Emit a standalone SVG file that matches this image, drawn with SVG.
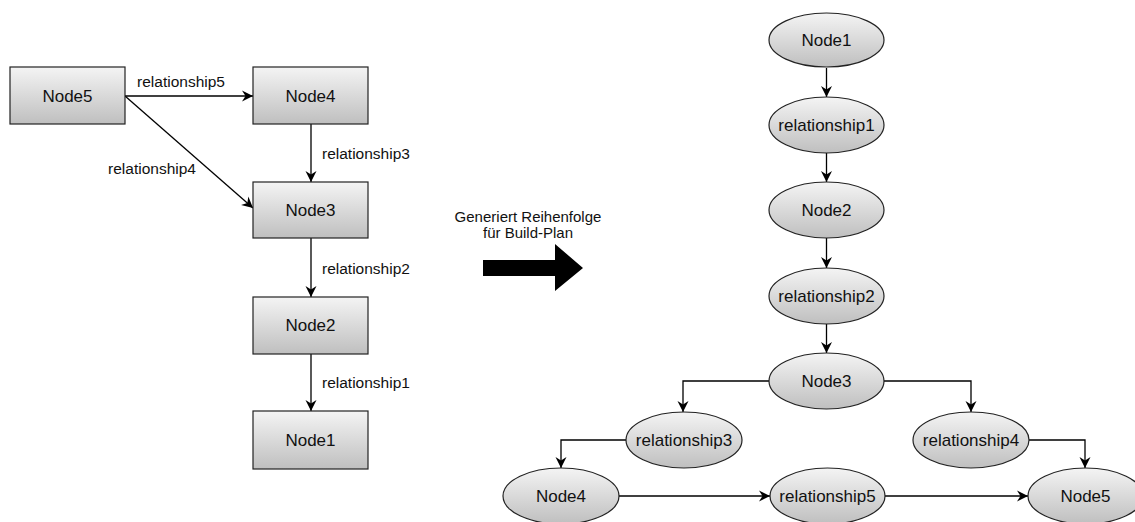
<svg xmlns="http://www.w3.org/2000/svg" width="1135" height="522" viewBox="0 0 1135 522">
  <defs>
    <linearGradient id="shade" x1="0" y1="0" x2="0" y2="1">
      <stop offset="0" stop-color="#f4f4f4"/>
      <stop offset="1" stop-color="#bfbfbf"/>
    </linearGradient>
    <marker id="arrow" viewBox="-12 -7 14 14" refX="0" refY="0" markerWidth="14" markerHeight="14" markerUnits="userSpaceOnUse" orient="auto">
      <path d="M0,0 L-11,-5.5 L-7.5,0 L-11,5.5 Z" fill="#000"/>
    </marker>
    <style>
      .box { fill: url(#shade); stroke: #222; stroke-width: 1.2; }
      .node-text { font-family: "Liberation Sans", Arial, sans-serif; font-size: 17px; fill: #111; text-anchor: middle; dominant-baseline: central; }
      .edge-label { font-family: "Liberation Sans", Arial, sans-serif; font-size: 15.5px; fill: #111; }
      .edge { fill: none; stroke: #000; stroke-width: 1.3; marker-end: url(#arrow); }
      .caption { font-family: "Liberation Sans", Arial, sans-serif; font-size: 15px; fill: #111; text-anchor: middle; }
    </style>
  </defs>

  <rect width="1135" height="522" fill="#fff"/>

  <!-- Source graph: connectors -->
  <g id="source-edges">
    <path class="edge" d="M125,96 L253,96"/>
    <path class="edge" d="M125,96 L253,208"/>
    <path class="edge" d="M311,124 L311,182"/>
    <path class="edge" d="M311,238 L311,297"/>
    <path class="edge" d="M311,354 L311,411"/>
    <text class="edge-label" x="181" y="87" text-anchor="middle">relationship5</text>
    <text class="edge-label" x="152" y="174" text-anchor="middle">relationship4</text>
    <text class="edge-label" x="322" y="159">relationship3</text>
    <text class="edge-label" x="322" y="274">relationship2</text>
    <text class="edge-label" x="322" y="388">relationship1</text>
  </g>

  <!-- Source graph: nodes -->
  <g id="src-node5">
    <rect class="box" x="10" y="67" width="115" height="57"/>
    <text class="node-text" x="67.5" y="96">Node5</text>
  </g>
  <g id="src-node4">
    <rect class="box" x="253" y="67" width="115" height="57"/>
    <text class="node-text" x="310.5" y="96">Node4</text>
  </g>
  <g id="src-node3">
    <rect class="box" x="253" y="182" width="115" height="56"/>
    <text class="node-text" x="310.5" y="210">Node3</text>
  </g>
  <g id="src-node2">
    <rect class="box" x="253" y="297" width="115" height="57"/>
    <text class="node-text" x="310.5" y="325.5">Node2</text>
  </g>
  <g id="src-node1">
    <rect class="box" x="253" y="411" width="115" height="58"/>
    <text class="node-text" x="310.5" y="440">Node1</text>
  </g>

  <!-- Transformation arrow -->
  <g id="transform">
    <text class="caption" x="528" y="222">Generiert Reihenfolge</text>
    <text class="caption" x="528" y="238">für Build-Plan</text>
    <polygon points="483,260 555,260 555,244 583,268 555,291 555,276 483,276" fill="#000"/>
  </g>

  <!-- Build plan: connectors -->
  <g id="plan-edges">
    <path class="edge" d="M826.5,68 L826.5,97"/>
    <path class="edge" d="M826.5,153 L826.5,182"/>
    <path class="edge" d="M826.5,238 L826.5,268"/>
    <path class="edge" d="M826.5,324 L826.5,353"/>
    <path class="edge" d="M769,381 L683,381 L683,412"/>
    <path class="edge" d="M884,381 L971,381 L971,412"/>
    <path class="edge" d="M626,440 L561,440 L561,468"/>
    <path class="edge" d="M1029,440 L1085,440 L1085,468"/>
    <path class="edge" d="M619,496 L770,496"/>
    <path class="edge" d="M885,496 L1028,496"/>
  </g>

  <!-- Build plan: nodes -->
  <g id="plan-node1">
    <ellipse class="box" cx="826.5" cy="40" rx="57.5" ry="27"/>
    <text class="node-text" x="826.5" y="40">Node1</text>
  </g>
  <g id="plan-rel1">
    <ellipse class="box" cx="826.5" cy="125" rx="57.5" ry="28"/>
    <text class="node-text" x="826.5" y="125">relationship1</text>
  </g>
  <g id="plan-node2">
    <ellipse class="box" cx="826.5" cy="210" rx="57.5" ry="28"/>
    <text class="node-text" x="826.5" y="210">Node2</text>
  </g>
  <g id="plan-rel2">
    <ellipse class="box" cx="826.5" cy="296" rx="57.5" ry="28"/>
    <text class="node-text" x="826.5" y="296">relationship2</text>
  </g>
  <g id="plan-node3">
    <ellipse class="box" cx="826.5" cy="381" rx="57.5" ry="28"/>
    <text class="node-text" x="826.5" y="381">Node3</text>
  </g>
  <g id="plan-rel3">
    <ellipse class="box" cx="684" cy="440" rx="58" ry="28"/>
    <text class="node-text" x="684" y="440">relationship3</text>
  </g>
  <g id="plan-rel4">
    <ellipse class="box" cx="971" cy="440" rx="58" ry="28"/>
    <text class="node-text" x="971" y="440">relationship4</text>
  </g>
  <g id="plan-node4">
    <ellipse class="box" cx="561" cy="496" rx="58" ry="28"/>
    <text class="node-text" x="561" y="496">Node4</text>
  </g>
  <g id="plan-rel5">
    <ellipse class="box" cx="827.5" cy="496" rx="57.5" ry="28"/>
    <text class="node-text" x="827.5" y="496">relationship5</text>
  </g>
  <g id="plan-node5">
    <ellipse class="box" cx="1085.5" cy="496" rx="57.5" ry="28"/>
    <text class="node-text" x="1085.5" y="496">Node5</text>
  </g>
</svg>
